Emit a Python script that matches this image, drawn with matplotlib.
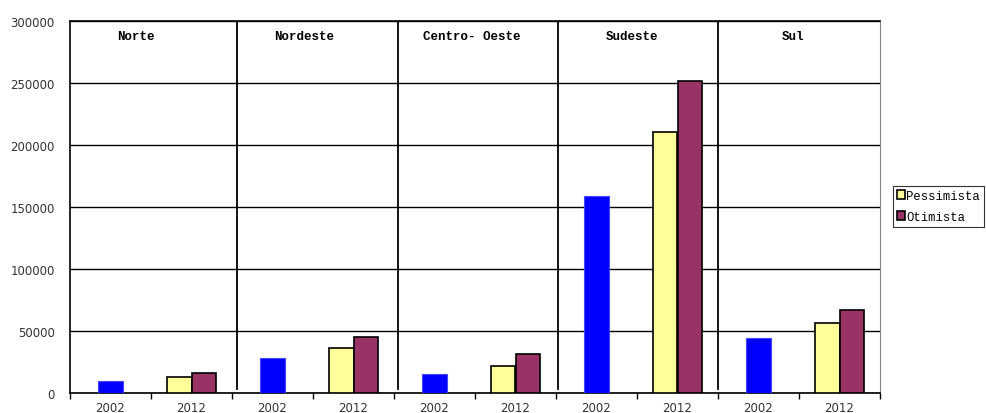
import matplotlib
matplotlib.use('agg')
import matplotlib.pyplot as plt
import numpy as np

regions = ['Norte', 'Nordeste', 'Centro- Oeste', 'Sudeste', 'Sul']
years = ['2002', '2012']
atual_2002 = [9800, 28500, 15300, 158900, 44100]
pessimista = [12700, 36300, 21800, 210500, 56500]
otimista = [16100, 45200, 31400, 251600, 67200]

fig = plt.figure(figsize=(9.86, 4.14), dpi=100)
ax = fig.add_axes([70 / 986, 20 / 414, 810 / 986, 372 / 414])

n = len(regions)
x02 = np.arange(n) * 2 + 0.5
x12 = np.arange(n) * 2 + 1.5
w = 0.3

ax.bar(x02, atual_2002, width=w, color='#0000ff', edgecolor='#4444ff', lw=0.8, zorder=3)
ax.bar(x12 - w / 2, pessimista, width=w, color='#ffff99', edgecolor='black', lw=1.2,
       zorder=3, label='Pessimista')
ax.bar(x12 + w / 2, otimista, width=w, color='#993366', edgecolor='black', lw=1.2,
       zorder=3, label='Otimista')

ax.set_xlim(0, 2 * n)
ax.set_ylim(0, 300000)
ax.set_yticks(np.arange(0, 300001, 50000))
ax.yaxis.grid(True, color='black', lw=1)
ax.set_axisbelow(True)
ax.tick_params(axis='y', length=0, pad=11, labelsize=8.5, labelcolor='#333333')

ax.set_xticks(np.arange(0, 2 * n + 1))
ax.set_xticklabels([])
ax.set_xticks(np.concatenate([x02, x12]), minor=True)
ax.set_xticklabels([years[0]] * n + [years[1]] * n, minor=True)
ax.tick_params(axis='x', which='major', length=4, direction='out', width=1)
ax.tick_params(axis='x', which='minor', length=0, pad=5.5, labelsize=8.5, labelcolor='#333333')

for s in ['left', 'top', 'bottom']:
    ax.spines[s].set_color('black')
    ax.spines[s].set_linewidth(1.2)
ax.spines['right'].set_color('#888888')

# region dividers
for d in [2.06, 4.05, 6.02, 8.0]:
    ax.axvline(d, ymin=0.01, ymax=1, color='black', lw=1.3, zorder=4)

label_x = [0.58, 2.52, 4.36, 6.62, 8.79]
for lx, r in zip(label_x, regions):
    ax.text(lx, 287500, r, family='Liberation Mono', fontweight='bold', fontsize=9,
            ha='left', va='center')

leg = ax.legend(loc='upper left', bbox_to_anchor=(893 / 986, 227 / 414), bbox_transform=fig.transFigure,
                frameon=True, fancybox=False, prop={'family': 'Liberation Mono', 'size': 8.8},
                handlelength=0.7, handleheight=0.7, handletextpad=0.1, borderpad=0.3,
                labelspacing=0.75, borderaxespad=0)
leg.get_frame().set_edgecolor('black')
leg.get_frame().set_linewidth(0.8)

plt.savefig('out.png', dpi=100)
